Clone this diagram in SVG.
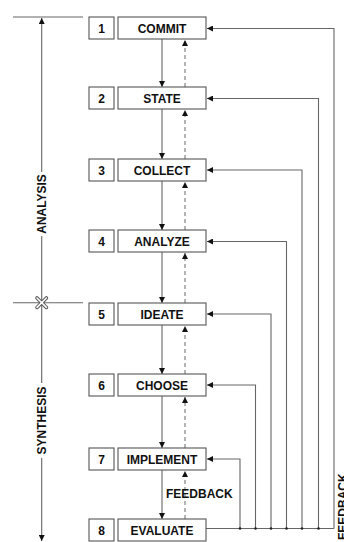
<svg xmlns="http://www.w3.org/2000/svg" width="344" height="542" viewBox="0 0 344 542">
<style>
.box{fill:#fff;stroke:#555;stroke-width:1.1}
.t{font-family:"Liberation Sans",Arial,sans-serif;font-weight:bold;font-size:12px;fill:#111;text-anchor:middle;dominant-baseline:central}
.ln{fill:none;stroke:#666;stroke-width:1.1}
.ds{fill:none;stroke:#777;stroke-width:1.1;stroke-dasharray:4 3}
.lab{font-family:"Liberation Sans",Arial,sans-serif;font-weight:bold;font-size:12px;fill:#111}
</style>
<defs>
<marker id="ah" viewBox="0 0 8 8" refX="8" refY="4" markerWidth="6" markerHeight="6" markerUnits="userSpaceOnUse" orient="auto">
<path d="M0,0 L8,4 L0,8 z" fill="#111"/>
</marker>
</defs>
<rect width="344" height="542" fill="#fff"/>
<g id="axis">
<line class="ln" x1="13" y1="17" x2="83" y2="17"/>
<line class="ln" x1="13" y1="302.7" x2="83" y2="302.7"/>
<line class="ln" x1="41.7" y1="172" x2="41.7" y2="18" marker-end="url(#ah)"/>
<line class="ln" x1="41.7" y1="236" x2="41.7" y2="383"/>
<line class="ln" x1="41.7" y1="458" x2="41.7" y2="541" marker-end="url(#ah)"/>
<g stroke-linecap="round">
<path d="M37,298 L46.4,307.4 M46.4,298 L37,307.4" stroke="#555" stroke-width="3.6"/>
<path d="M37,298 L46.4,307.4 M46.4,298 L37,307.4" stroke="#fff" stroke-width="1.6"/>
</g>
<text class="lab" transform="translate(46,204) rotate(-90)" text-anchor="middle" font-size="11.5">ANALYSIS</text>
<text class="lab" transform="translate(46,420.5) rotate(-90)" text-anchor="middle" font-size="11.5">SYNTHESIS</text>
</g>
<g id="connectors">
<line class="ln" x1="162" y1="39" x2="162" y2="87" marker-end="url(#ah)"/>
<line class="ln" x1="162" y1="109" x2="162" y2="159" marker-end="url(#ah)"/>
<line class="ln" x1="162" y1="181" x2="162" y2="230" marker-end="url(#ah)"/>
<line class="ln" x1="162" y1="252" x2="162" y2="303" marker-end="url(#ah)"/>
<line class="ln" x1="162" y1="325" x2="162" y2="374" marker-end="url(#ah)"/>
<line class="ln" x1="162" y1="396" x2="162" y2="448" marker-end="url(#ah)"/>
<line class="ln" x1="162" y1="470" x2="162" y2="519" marker-end="url(#ah)"/>
<line class="ds" x1="185" y1="87" x2="185" y2="40" marker-end="url(#ah)"/>
<line class="ds" x1="185" y1="159" x2="185" y2="110" marker-end="url(#ah)"/>
<line class="ds" x1="185" y1="230" x2="185" y2="182" marker-end="url(#ah)"/>
<line class="ds" x1="185" y1="303" x2="185" y2="253" marker-end="url(#ah)"/>
<line class="ds" x1="185" y1="374" x2="185" y2="326" marker-end="url(#ah)"/>
<line class="ds" x1="185" y1="448" x2="185" y2="397" marker-end="url(#ah)"/>
<line class="ds" x1="185" y1="519" x2="185" y2="471" marker-end="url(#ah)"/>
<line class="ln" x1="206" y1="528.5" x2="334" y2="528.5"/>
<polyline class="ln" points="334,528.5 334,28.5 207,28.5" marker-end="url(#ah)"/>
<polyline class="ln" points="318.5,528.5 318.5,98.5 207,98.5" marker-end="url(#ah)"/>
<polyline class="ln" points="302,528.5 302,170 207,170" marker-end="url(#ah)"/>
<polyline class="ln" points="286.5,528.5 286.5,241.5 207,241.5" marker-end="url(#ah)"/>
<polyline class="ln" points="271,528.5 271,314 207,314" marker-end="url(#ah)"/>
<polyline class="ln" points="255.5,528.5 255.5,385 207,385" marker-end="url(#ah)"/>
<polyline class="ln" points="240,528.5 240,459 207,459" marker-end="url(#ah)"/>
<g fill="#222">
<circle cx="240" cy="528.5" r="1.3"/><circle cx="255.5" cy="528.5" r="1.3"/><circle cx="271" cy="528.5" r="1.3"/><circle cx="286.5" cy="528.5" r="1.3"/><circle cx="302" cy="528.5" r="1.3"/><circle cx="318.5" cy="528.5" r="1.3"/>
</g>
<text class="lab" x="166" y="497.5">FEEDBACK</text>
<text class="lab" transform="translate(346.5,540) rotate(-90)" font-size="14">FEEDBACK</text>
</g>
<g id="n1"><rect class="box" x="89" y="17" width="25" height="22"/><text class="t" x="101.5" y="28.5">1</text><rect class="box" x="118" y="17" width="88" height="22"/><text class="t" x="162" y="28.5">COMMIT</text></g>
<g id="n2"><rect class="box" x="89" y="87" width="25" height="22"/><text class="t" x="101.5" y="98.5">2</text><rect class="box" x="118" y="87" width="88" height="22"/><text class="t" x="162" y="98.5">STATE</text></g>
<g id="n3"><rect class="box" x="89" y="159" width="25" height="22"/><text class="t" x="101.5" y="170.5">3</text><rect class="box" x="118" y="159" width="88" height="22"/><text class="t" x="162" y="170.5">COLLECT</text></g>
<g id="n4"><rect class="box" x="89" y="230" width="25" height="22"/><text class="t" x="101.5" y="241.5">4</text><rect class="box" x="118" y="230" width="88" height="22"/><text class="t" x="162" y="241.5">ANALYZE</text></g>
<g id="n5"><rect class="box" x="89" y="303" width="25" height="22"/><text class="t" x="101.5" y="314.5">5</text><rect class="box" x="118" y="303" width="88" height="22"/><text class="t" x="162" y="314.5">IDEATE</text></g>
<g id="n6"><rect class="box" x="89" y="374" width="25" height="22"/><text class="t" x="101.5" y="385.5">6</text><rect class="box" x="118" y="374" width="88" height="22"/><text class="t" x="162" y="385.5">CHOOSE</text></g>
<g id="n7"><rect class="box" x="89" y="448" width="25" height="22"/><text class="t" x="101.5" y="459.5">7</text><rect class="box" x="118" y="448" width="88" height="22"/><text class="t" x="162" y="459.5">IMPLEMENT</text></g>
<g id="n8"><rect class="box" x="89" y="519" width="25" height="22"/><text class="t" x="101.5" y="530.5">8</text><rect class="box" x="118" y="519" width="88" height="22"/><text class="t" x="162" y="530.5">EVALUATE</text></g>
</svg>
